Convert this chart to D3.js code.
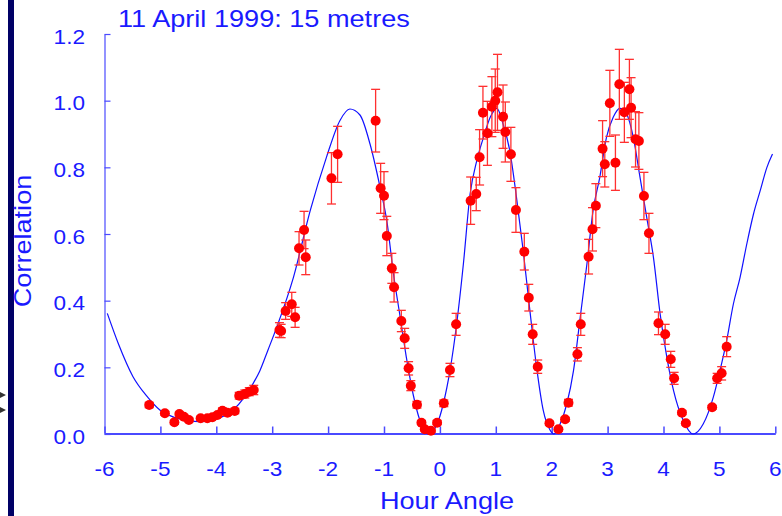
<!DOCTYPE html>
<html><head><meta charset="utf-8">
<script src="https://cdn.jsdelivr.net/npm/d3@7"></script>
<style>html,body{margin:0;padding:0;background:#fff;overflow:hidden}</style>
</head><body>
<svg id="chart" width="782" height="516"></svg>
<script>
const titleText = "11 April 1999: 15 metres";
const xLabel = "Hour Angle";
const yLabel = "Correlation";
const xTicks = [-6,-5,-4,-3,-2,-1,0,1,2,3,4,5,6];
const yTicks = [0,0.2,0.4,0.6,0.8,1.0,1.2];

// measured points: hour angle, correlation, error
const ptX = [-5.20,-4.92,-4.75,-4.66,-4.58,-4.49,-4.28,-4.16,-4.07,-3.98,-3.89,-3.80,-3.67,-3.59,-3.49,-3.41,-3.33,
  -2.87,-2.84,-2.76,-2.65,-2.59,-2.52,-2.43,-2.40,-1.94,-1.83,
  -1.15,-1.06,-1.00,-0.95,-0.86,-0.82,-0.69,-0.63,-0.56,-0.52,-0.41,-0.33,-0.27,-0.16,-0.05,0.07,0.18,0.29,
  0.55,0.65,0.71,0.77,0.85,0.93,0.99,1.03,1.13,1.17,1.27,1.36,1.51,1.59,1.66,1.75,1.96,2.12,2.24,2.30,
  2.46,2.52,2.66,2.73,2.79,2.91,2.95,3.04,3.14,3.21,3.30,3.39,3.42,3.50,3.56,3.65,3.74,3.91,4.03,4.13,4.19,4.33,4.40,
  4.87,4.96,5.04,5.13];
const ptY = [0.087,0.062,0.035,0.060,0.052,0.042,0.047,0.047,0.050,0.057,0.070,0.064,0.069,0.115,0.120,0.127,0.132,
  0.312,0.309,0.369,0.389,0.350,0.557,0.612,0.530,0.767,0.839,
  0.940,0.737,0.715,0.594,0.497,0.440,0.339,0.287,0.197,0.145,0.088,0.034,0.014,0.010,0.034,0.092,0.192,0.329,
  0.700,0.720,0.830,0.964,0.902,0.982,1.000,1.025,0.952,0.906,0.839,0.672,0.547,0.409,0.299,0.202,0.032,0.014,0.044,0.094,
  0.239,0.329,0.532,0.614,0.685,0.856,0.809,0.992,0.814,1.049,0.965,1.034,0.979,0.884,0.879,0.714,0.602,0.332,0.299,0.224,0.167,0.064,0.032,
  0.080,0.167,0.182,0.262];
const ptErr = [0.008,0.006,0.006,0.006,0.006,0.006,0.006,0.006,0.006,0.006,0.008,0.008,0.008,0.010,0.012,0.012,0.014,
  0.022,0.020,0.025,0.036,0.030,0.050,0.056,0.052,0.077,0.084,
  0.094,0.075,0.072,0.059,0.045,0.044,0.032,0.030,0.020,0.015,0.010,0.006,0.005,0.005,0.006,0.010,0.020,0.033,
  0.071,0.050,0.083,0.079,0.096,0.090,0.095,0.114,0.095,0.090,0.081,0.067,0.055,0.040,0.030,0.020,0.006,0.005,0.006,0.010,
  0.020,0.033,0.052,0.065,0.066,0.084,0.068,0.099,0.083,0.105,0.090,0.090,0.090,0.083,0.085,0.071,0.060,0.034,0.030,0.024,0.018,0.006,0.005,
  0.006,0.015,0.020,0.030];

// fitted curve
const curveX = [-5.95,-5.75,-5.49,-5.25,-5.01,-4.75,-4.50,-4.29,-4.00,-3.70,-3.50,-3.34,-3.22,-3.08,-2.92,-2.62,-2.32,-2.03,-1.79,-1.61,-1.43,-1.25,-1.07,-0.95,-0.83,-0.71,-0.59,-0.48,-0.36,-0.21,-0.05,0.06,0.18,0.30,0.42,0.54,0.66,0.78,0.90,1.02,1.13,1.25,1.37,1.49,1.61,1.73,1.85,1.97,2.04,2.15,2.27,2.39,2.51,2.63,2.74,2.86,2.98,3.10,3.22,3.34,3.46,3.58,3.70,3.82,3.94,4.06,4.18,4.35,4.53,4.71,4.89,5.01,5.13,5.25,5.37,5.49,5.61,5.73,5.85,5.95];
const curveY = [0.362,0.27,0.172,0.115,0.072,0.05,0.04,0.037,0.045,0.072,0.11,0.152,0.19,0.25,0.32,0.47,0.67,0.83,0.94,0.975,0.957,0.87,0.74,0.64,0.48,0.35,0.22,0.12,0.042,0.0,0.03,0.09,0.19,0.33,0.51,0.72,0.82,0.89,0.95,0.977,0.93,0.85,0.71,0.55,0.37,0.20,0.07,0.012,0.0,0.03,0.09,0.19,0.35,0.51,0.67,0.77,0.89,0.95,0.977,0.96,0.89,0.77,0.65,0.53,0.36,0.23,0.13,0.042,0.0,0.03,0.11,0.19,0.28,0.39,0.47,0.57,0.66,0.73,0.80,0.84];

const svg = d3.select("#chart");
const x = d3.scaleLinear().domain([-6,6]).range([104.5,775.3]);
const y = d3.scaleLinear().domain([0,1.2]).range([434,34]);
const blue = "#1a1aff";
const axisBlue = "#4a4aff";
const sx = 1.13;

// dark bar at left edge
svg.append("rect").attr("x",8).attr("y",0).attr("width",6).attr("height",516).attr("fill","#000066");
// small dark marks at far left
svg.append("path").attr("d","M0,392 L6,395 L0,398 Z M0,407 L6,410 L0,413 Z").attr("fill","#333");

// axes
const yAxis = d3.axisLeft(y).tickValues(yTicks).tickSizeInner(-6).tickSizeOuter(0).tickFormat(d3.format(".1f"));
const gy = svg.append("g").attr("transform","translate(104.5,0)").call(yAxis);
gy.select(".domain").attr("stroke",axisBlue).attr("stroke-width",1.2);
gy.selectAll(".tick line").attr("stroke",axisBlue).attr("stroke-width",1.2);
gy.selectAll(".tick text").remove();

const xAxis = d3.axisBottom(x).tickValues(xTicks).tickSizeInner(-7).tickSizeOuter(0);
const gx = svg.append("g").attr("transform","translate(0,433.5)").call(xAxis);
gx.select(".domain").attr("stroke",axisBlue).attr("stroke-width",2);
gx.selectAll(".tick line").attr("stroke",axisBlue).attr("stroke-width",1.5);
gx.selectAll(".tick text").remove();

const font = "Liberation Sans, Arial, sans-serif";
// y tick labels
svg.append("g").selectAll("text").data(yTicks).join("text")
  .attr("transform", d => `translate(85,${y(d)+9.5}) scale(${sx},1)`)
  .attr("text-anchor","end").attr("font-family",font).attr("font-size",20).attr("fill",blue)
  .text(d => d3.format(".1f")(d));
// x tick labels
svg.append("g").selectAll("text").data(xTicks).join("text")
  .attr("transform", d => `translate(${x(d)},476) scale(${sx},1)`)
  .attr("text-anchor","middle").attr("font-family",font).attr("font-size",20).attr("fill",blue)
  .text(d => d < 0 ? "-" + Math.abs(d) : String(d));

// curve
const line = d3.line().x((d,i)=>x(curveX[i])).y((d,i)=>y(curveY[i])).curve(d3.curveMonotoneX);
svg.append("path").datum(curveX).attr("d",line).attr("fill","none").attr("stroke","#1010ff").attr("stroke-width",1.2);

// error bars
const pts = ptX.map((v,i)=>({x:v,y:ptY[i],e:ptErr[i]}));
const eb = svg.append("g").attr("stroke","#ff3030").attr("stroke-width",1.3).attr("fill","none");
pts.forEach(p => {
  const cx = x(p.x), y1 = y(p.y + p.e), y2 = y(Math.max(0,p.y - p.e));
  eb.append("line").attr("x1",cx).attr("x2",cx).attr("y1",y1).attr("y2",y2);
  eb.append("line").attr("x1",cx-4.5).attr("x2",cx+4.5).attr("y1",y1).attr("y2",y1);
  eb.append("line").attr("x1",cx-4.5).attr("x2",cx+4.5).attr("y1",y2).attr("y2",y2);
});
// points
svg.append("g").selectAll("circle").data(pts).join("circle")
  .attr("cx",d=>x(d.x)).attr("cy",d=>y(d.y)).attr("r",5).attr("fill","#ff0000");

// title
svg.append("text").attr("transform",`translate(118,27) scale(${sx},1)`)
  .attr("font-family",font).attr("font-size",24).attr("fill",blue).text(titleText);
// x label
svg.append("text").attr("transform",`translate(447,509) scale(${sx},1)`)
  .attr("text-anchor","middle").attr("font-family",font).attr("font-size",24).attr("fill",blue).text(xLabel);
// y label
svg.append("text").attr("transform",`translate(31,241) rotate(-90) scale(${sx},1)`)
  .attr("text-anchor","middle").attr("font-family",font).attr("font-size",24).attr("fill",blue).text(yLabel);
</script>
</body></html>
